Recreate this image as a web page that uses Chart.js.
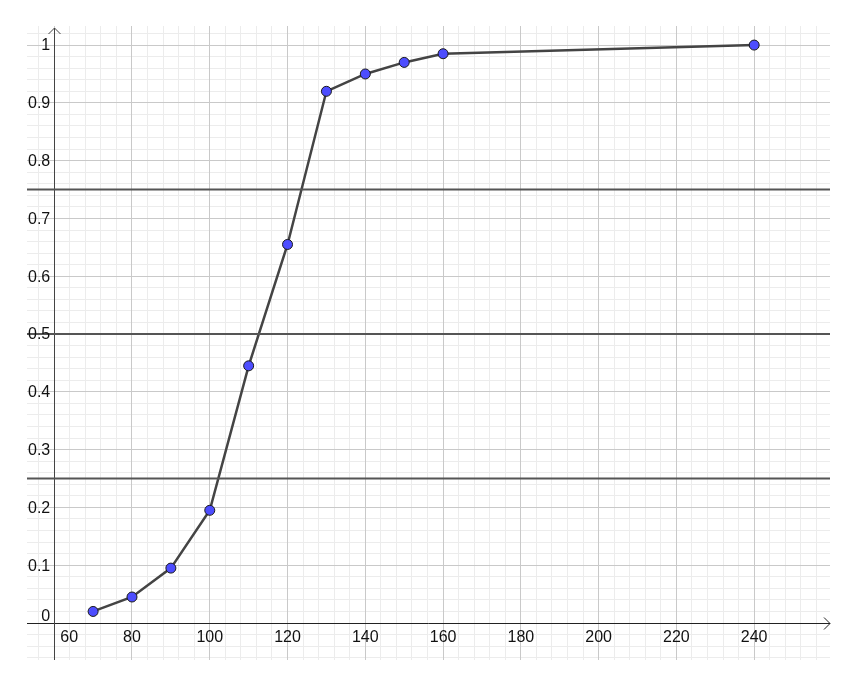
<!DOCTYPE html>
<html>
<head>
<meta charset="utf-8">
<script src="https://cdn.jsdelivr.net/npm/chart.js@4"></script>
<style>
  html, body { margin: 0; padding: 0; background: #fff; }
  #wrap { width: 853px; height: 678px; }
</style>
</head>
<body>
<div id="wrap"><canvas id="ogive" width="853" height="678"></canvas></div>
<script>
// ==================== DATA ====================
const xValues = [70, 80, 90, 100, 110, 120, 130, 140, 150, 160, 240];
const cumFreq = [0.02, 0.045, 0.095, 0.195, 0.445, 0.655, 0.92, 0.95, 0.97, 0.985, 1];
const quartileLevels = [0.25, 0.5, 0.75];
const xTickLabels = [60, 80, 100, 120, 140, 160, 180, 200, 220, 240];
const yTickLabels = ['0', '0.1', '0.2', '0.3', '0.4', '0.5', '0.6', '0.7', '0.8', '0.9', '1'];

// visible window (graphing view)
const xMin = 53, xMax = 259.5;
const yMin = -0.064, yMax = 1.033;
const yAxisAt = 60; // vertical axis crosses at x = 60

const FONT = '16px "Liberation Sans", Arial, sans-serif';

// axes + arrows, drawn under the data
const axesPlugin = {
  id: 'axes',
  beforeDatasetsDraw(chart) {
    const { ctx, chartArea: a, scales } = chart;
    const y0 = Math.round(scales.y.getPixelForValue(0));
    const x0 = Math.round(scales.x.getPixelForValue(yAxisAt));
    ctx.save();
    ctx.lineWidth = 1;
    // x axis
    ctx.strokeStyle = '#222';
    ctx.beginPath();
    ctx.moveTo(a.left, y0 + 0.5);
    ctx.lineTo(a.right, y0 + 0.5);
    ctx.moveTo(a.right - 6, y0 - 5.5);
    ctx.lineTo(a.right, y0 + 0.5);
    ctx.lineTo(a.right - 6, y0 + 6.5);
    ctx.stroke();
    // y axis
    ctx.strokeStyle = '#444';
    ctx.beginPath();
    ctx.moveTo(x0 + 0.5, a.bottom);
    ctx.lineTo(x0 + 0.5, a.top + 2);
    ctx.moveTo(x0 - 5.5, a.top + 8);
    ctx.lineTo(x0 + 0.5, a.top + 2);
    ctx.lineTo(x0 + 6.5, a.top + 8);
    ctx.stroke();
    ctx.restore();
  },
  afterDraw(chart) {
    const { ctx, scales } = chart;
    const y0 = scales.y.getPixelForValue(0);
    const x0 = scales.x.getPixelForValue(yAxisAt);
    ctx.save();
    ctx.font = FONT;
    ctx.fillStyle = '#111';
    // x labels
    ctx.textAlign = 'center';
    ctx.textBaseline = 'top';
    xTickLabels.forEach((v) => {
      let px = scales.x.getPixelForValue(v);
      if (v === yAxisAt) px += 15; // keep clear of the vertical axis
      ctx.fillText(String(v), px, y0 + 7);
    });
    // y labels
    ctx.textAlign = 'right';
    ctx.textBaseline = 'middle';
    yTickLabels.forEach((t) => {
      let py = scales.y.getPixelForValue(parseFloat(t));
      if (parseFloat(t) === 0) py -= 7;
      ctx.fillText(t, x0 - 4, py + 1);
    });
    ctx.restore();
  },
};

const gridScale = (axis, min, max, step, color, z) => ({
  type: 'linear',
  axis,
  position: axis === 'x' ? 'bottom' : 'left',
  min,
  max,
  z,
  ticks: { display: false, stepSize: step, includeBounds: false },
  grid: { color, drawTicks: false, lineWidth: 1 },
  border: { display: false },
});

const quartileSets = quartileLevels.map((q) => ({
  data: [{ x: xMin, y: q }, { x: xMax, y: q }],
  showLine: true,
  borderColor: '#555',
  borderWidth: 2,
  pointRadius: 0,
  xAxisID: 'x',
  yAxisID: 'y',
}));

new Chart(document.getElementById('ogive').getContext('2d'), {
  type: 'scatter',
  data: {
    datasets: [
      ...quartileSets,
      {
        data: xValues.map((x, i) => ({ x, y: cumFreq[i] })),
        showLine: true,
        borderColor: '#444',
        borderWidth: 2.5,
        pointRadius: 5,
        pointBackgroundColor: '#4d4dff',
        pointBorderColor: '#1a1a1a',
        pointBorderWidth: 1,
        xAxisID: 'x',
        yAxisID: 'y',
      },
    ],
  },
  options: {
    responsive: false,
    animation: false,
    layout: { padding: { left: 27, top: 26, right: 23, bottom: 18 } },
    plugins: { legend: { display: false }, tooltip: { enabled: false } },
    scales: {
      xMinor: gridScale('x', xMin, xMax, 4, '#ececec', -2),
      yMinor: gridScale('y', yMin, yMax, 0.02, '#ececec', -2),
      x: gridScale('x', xMin, xMax, 20, '#c9c9c9', -1),
      y: gridScale('y', yMin, yMax, 0.1, '#c9c9c9', -1),
    },
  },
  plugins: [axesPlugin],
});
</script>
</body>
</html>
